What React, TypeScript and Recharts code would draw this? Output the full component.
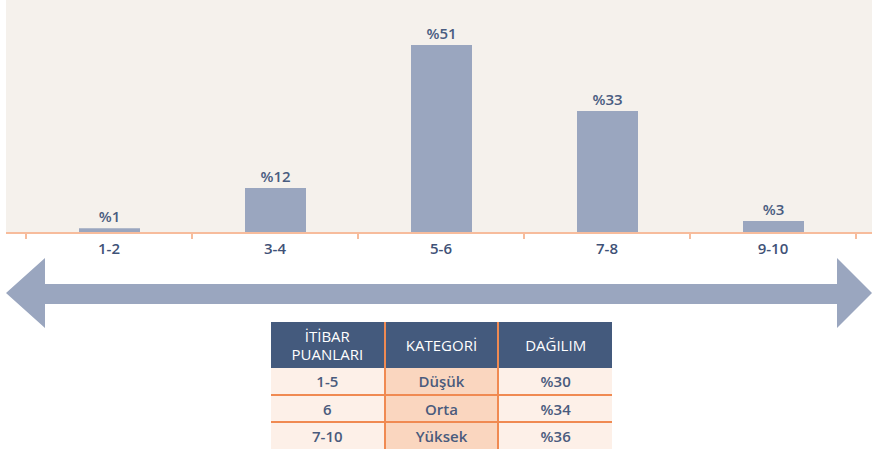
import { BarChart, Bar, XAxis, YAxis, LabelList } from 'recharts'

document.body.style.margin = '0'

const categories = ['1-2', '3-4', '5-6', '7-8', '9-10']
const shares = [1, 12, 51, 33, 3]

const tableHeaders = ['İTİBAR\nPUANLARI', 'KATEGORİ', 'DAĞILIM']
const scoreRanges = ['1-5', '6', '7-10']
const levels = ['Düşük', 'Orta', 'Yüksek']
const distribution = ['%30', '%34', '%36']

const data = categories.map((c, i) => ({ range: c, value: shares[i] }))

const FONT = '"Open Sans", sans-serif'
const NAVY = '#445a7d'
const BAR = '#9aa6bf'
const PEACH = '#f7bc9c'
const ORANGE = '#f08a52'

const CHART_W = 872
const MARGIN = { top: 12, right: 16, left: 26, bottom: 0 }
const BAND = (CHART_W - MARGIN.left - MARGIN.right) / categories.length

function BoundaryTick(props: any) {
  const { x, y, payload, index } = props
  const left = x - BAND / 2
  return (
    <g>
      <line x1={left} x2={left} y1={y - 8} y2={y - 1} stroke={PEACH} strokeWidth={2} />
      {index === categories.length - 1 && (
        <line x1={x + BAND / 2} x2={x + BAND / 2} y1={y - 8} y2={y - 1} stroke={PEACH} strokeWidth={2} />
      )}
      <text x={x} y={y + 14} textAnchor="middle" fill="#3f5277" fontSize={15} fontWeight={600} fontFamily={FONT}>
        {payload.value}
      </text>
    </g>
  )
}

export default function App() {
  const cell = { borderRight: `2px solid ${ORANGE}`, textAlign: 'center' as const, padding: 0 }
  return (
    <div style={{ position: 'relative', width: 872, height: 454, background: '#fff', fontFamily: FONT, overflow: 'hidden' }}>
      {/* beige plot background + baseline */}
      <div
        style={{
          position: 'absolute', left: 6, top: 0, width: 866, height: 232,
          background: '#f5f1ec', borderBottom: `2px solid ${PEACH}`,
        }}
      />
      <div style={{ position: 'absolute', left: 0, top: 0 }}>
        <BarChart width={CHART_W} height={260} data={data} margin={MARGIN}>
          <XAxis
            dataKey="range"
            axisLine={false}
            tickLine={false}
            height={28}
            interval={0}
            tick={<BoundaryTick />}
          />
          <YAxis hide domain={[0, 60]} />
          <Bar dataKey="value" fill={BAR} barSize={61} isAnimationActive={false}>
            <LabelList
              dataKey="value"
              position="top"
              offset={6}
              formatter={(v: any) => `%${v}`}
              fill="#495c80"
              fontSize={15}
              fontWeight={600}
              fontFamily={FONT}
            />
          </Bar>
        </BarChart>
      </div>

      {/* double arrow */}
      <svg width={872} height={80} style={{ position: 'absolute', left: 0, top: 254 }}>
        <polygon
          points="6,39 45,4 45,30 837,30 837,4 872,39 837,74 837,50 45,50 45,74"
          fill={BAR}
        />
      </svg>

      {/* table */}
      <table
        style={{
          position: 'absolute', left: 271, top: 322, width: 341,
          borderCollapse: 'collapse', fontFamily: FONT, fontSize: 15, tableLayout: 'fixed',
        }}
      >
        <thead>
          <tr style={{ background: NAVY, color: '#fff', height: 46 }}>
            {tableHeaders.map((h, i) => (
              <th
                key={i}
                style={{
                  ...cell,
                  borderRight: i < tableHeaders.length - 1 ? `2px solid ${ORANGE}` : 'none',
                  fontWeight: 400, lineHeight: '18px', whiteSpace: 'pre-line',
                }}
              >
                {h}
              </th>
            ))}
          </tr>
        </thead>
        <tbody>
          {scoreRanges.map((r, i) => (
            <tr
              key={r}
              style={{
                height: 27,
                color: '#4a5b7d',
                fontWeight: 600,
                borderTop: i > 0 ? `2px solid ${ORANGE}` : 'none',
              }}
            >
              <td style={{ ...cell, background: '#fdf0e8' }}>{r}</td>
              <td style={{ ...cell, background: '#fad6bf' }}>{levels[i]}</td>
              <td style={{ ...cell, borderRight: 'none', background: '#fdf0e8' }}>{distribution[i]}</td>
            </tr>
          ))}
        </tbody>
      </table>
    </div>
  )
}
